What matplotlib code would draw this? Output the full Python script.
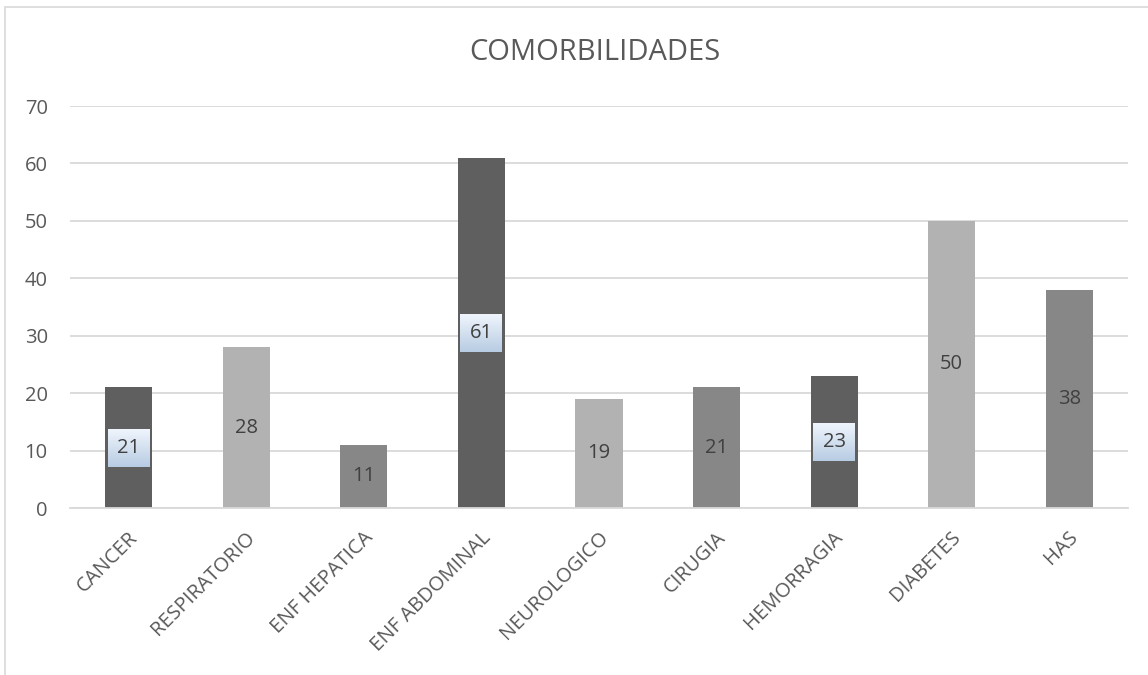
import matplotlib
matplotlib.use("Agg")
import matplotlib.pyplot as plt
import matplotlib.transforms as mtrans
import numpy as np
from matplotlib.patches import Rectangle

categories = ["CANCER", "RESPIRATORIO", "ENF HEPATICA", "ENF ABDOMINAL", "NEUROLOGICO",
              "CIRUGIA", "HEMORRAGIA", "DIABETES", "HAS"]
values = [21, 28, 11, 61, 19, 21, 23, 50, 38]
title = "COMORBILIDADES"
yticks = [0, 10, 20, 30, 40, 50, 60, 70]

DARK, LIGHT, MID = "#5f5f5f", "#b2b2b2", "#878787"
palette = [DARK, LIGHT, MID]
colors = [palette[i % 3] for i in range(len(values))]

plt.rcParams['font.family'] = ['Open Sans', 'DejaVu Sans']
TXT = "#595959"

fig = plt.figure(figsize=(11.48, 6.75), dpi=100)
fig.patch.set_facecolor("white")
fig.add_artist(Rectangle((5/1148, -0.1), 1.2, (1 - 7/675) + 0.1, transform=fig.transFigure,
                         fill=False, edgecolor="#d9d9d9", lw=1.2))

ax = fig.add_axes([70/1148, 1 - 508/675, (1128 - 70)/1148, (508 - 106)/675])
x = np.arange(len(categories))
ax.bar(x, values, width=0.4, color=colors, zorder=2)

ax.set_ylim(0, 70)
ax.set_yticks(yticks)
ax.grid(axis='y', color="#d9d9d9", lw=1.3, zorder=0)
for s in ["top", "right", "left"]:
    ax.spines[s].set_visible(False)
ax.spines["bottom"].set_color("#d9d9d9")
ax.spines["bottom"].set_linewidth(1.3)
ax.tick_params(axis='both', length=0, colors=TXT, labelsize=14.5)
ax.tick_params(axis='y', pad=16)
ax.set_xticks(x)
ax.set_xticklabels(categories, rotation=45, ha='right', rotation_mode='anchor', color=TXT)
ax.tick_params(axis='x', pad=14)
offset = mtrans.ScaledTranslation(-1/100, 0, fig.dpi_scale_trans)
for lab in ax.get_xticklabels():
    lab.set_transform(lab.get_transform() + offset)

px_per_x = (1128 - 70) / len(categories)
px_per_y = (508 - 106) / 70
bw = 42 / px_per_x
bh = 38 / px_per_y
grad = np.linspace(0, 1, 64).reshape(-1, 1)
top_c = np.array([0.94, 0.96, 0.99])
bot_c = np.array([0.72, 0.80, 0.89])
img = top_c[None, None, :] * (1 - grad[:, :, None]) + bot_c[None, None, :] * grad[:, :, None]
for xi, v, c in zip(x, values, colors):
    yc = v / 2
    if c == DARK:
        ax.imshow(img, extent=(xi - bw/2, xi + bw/2, yc - bh/2, yc + bh/2),
                  aspect='auto', zorder=3, interpolation='bilinear', origin='upper')
    ax.text(xi, yc, str(v), ha='center', va='center', fontsize=14.5, color="#404040", zorder=4)

ax.set_xlim(-0.5, len(categories) - 0.5)
ax.set_ylim(0, 70)

fig.text(595/1148, 1 - 52/675, title, ha='center', va='center', fontsize=21, color=TXT)

fig.savefig("out.png", dpi=100, facecolor="white")
